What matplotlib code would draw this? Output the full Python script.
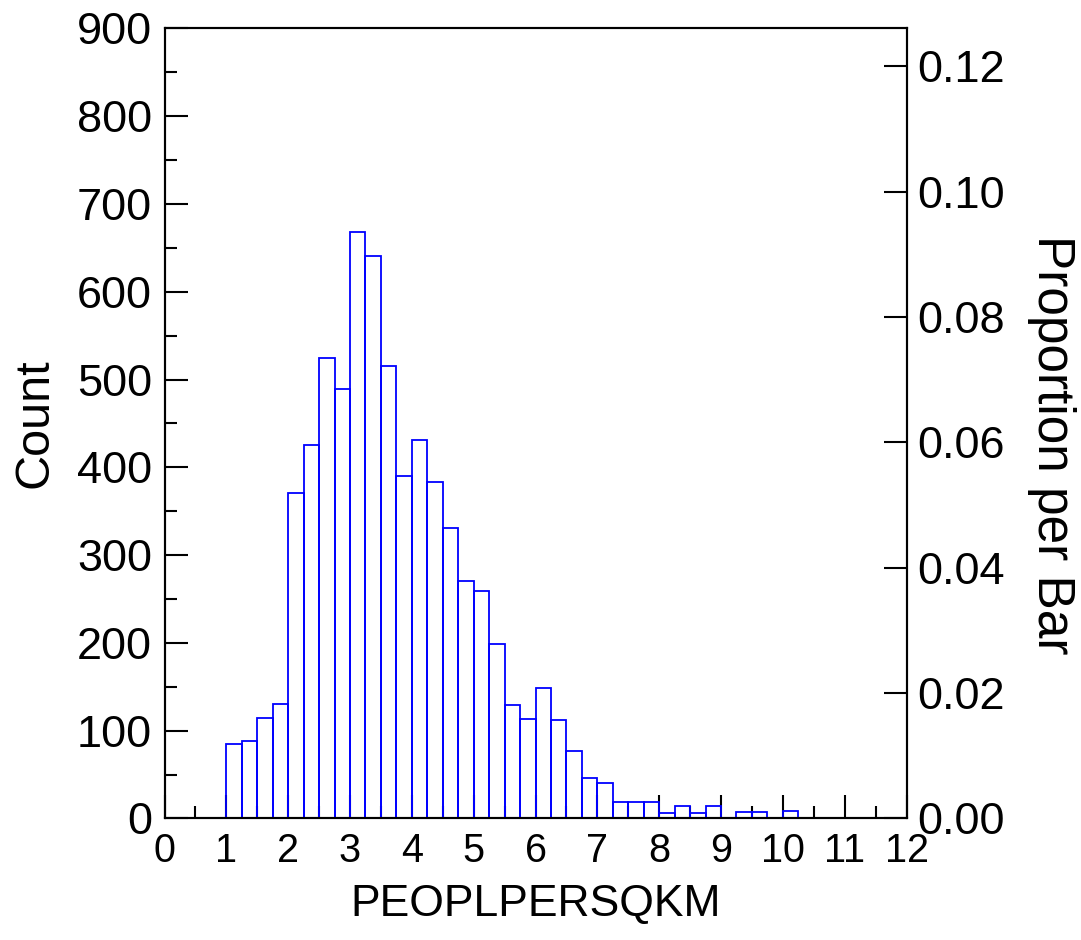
import matplotlib
matplotlib.use("Agg")
import matplotlib.pyplot as plt
import numpy as np
from matplotlib.ticker import MultipleLocator, FormatStrFormatter

plt.rcParams['font.family'] = ['Liberation Sans', 'DejaVu Sans']

# Histogram data: bin width 0.25 from 0 to 12
bin_start = 0.0
bin_width = 0.25
counts = [0, 0, 0, 0,
          85, 88, 114, 130,
          371, 425, 525, 489,
          668, 641, 516, 390,
          431, 383, 331, 271,
          259, 199, 129, 113,
          149, 112, 77, 46,
          40, 19, 19, 19,
          6, 14, 6, 14,
          0, 7, 7, 0,
          8, 0, 0, 0,
          0, 0, 0, 0]
n_total = 7140  # denominator of the proportion axis
x_label = "PEOPLPERSQKM"
y_label = "Count"
y2_label = "Proportion per Bar"

counts = np.array(counts)
lefts = bin_start + bin_width * np.arange(len(counts))

fig = plt.figure(figsize=(10.81, 9.40), dpi=100)
ax = fig.add_axes([0.1522, 0.1293, 0.6864, 0.8404])

bars = ax.bar(lefts, counts, width=bin_width, align='edge', fill=False,
              edgecolor='#0000ff', linewidth=1.3, zorder=3)
for b in bars:
    b.set_clip_on(False)

ax.set_xlim(0, 12)
ax.set_ylim(0, 900)
ax.xaxis.set_major_locator(MultipleLocator(1))
ax.xaxis.set_minor_locator(MultipleLocator(0.5))
ax.yaxis.set_major_locator(MultipleLocator(100))
ax.yaxis.set_minor_locator(MultipleLocator(50))

for s in ax.spines.values():
    s.set_linewidth(1.5)

ax.tick_params(axis='both', which='major', direction='in', length=16.5, width=1.5)
ax.tick_params(axis='both', which='minor', direction='in', length=8.5, width=1.5)
ax.tick_params(axis='x', which='major', labelsize=28.5, pad=10)
ax.tick_params(axis='y', which='major', labelsize=32.5, pad=9)
ax.tick_params(top=False, right=False, which='both')

ax.set_xlabel(x_label, fontsize=32, labelpad=10)
ax.set_ylabel(y_label, fontsize=35, labelpad=14)

ax2 = ax.twinx()
ax2.set_ylim(0, 900 / n_total)
ax2.yaxis.set_major_locator(MultipleLocator(0.02))
ax2.yaxis.set_major_formatter(FormatStrFormatter('%.2f'))
ax2.tick_params(axis='y', which='major', direction='in', length=16.5, width=1.5,
                labelsize=32.5, pad=8)
ax2.tick_params(axis='y', which='minor', length=0)
for s in ax2.spines.values():
    s.set_linewidth(1.5)
ax2.set_ylabel(y2_label, fontsize=37, rotation=-90, va='center')
ax2.yaxis.set_label_coords(1.195, 0.473)

fig.savefig("out.png", dpi=100)
